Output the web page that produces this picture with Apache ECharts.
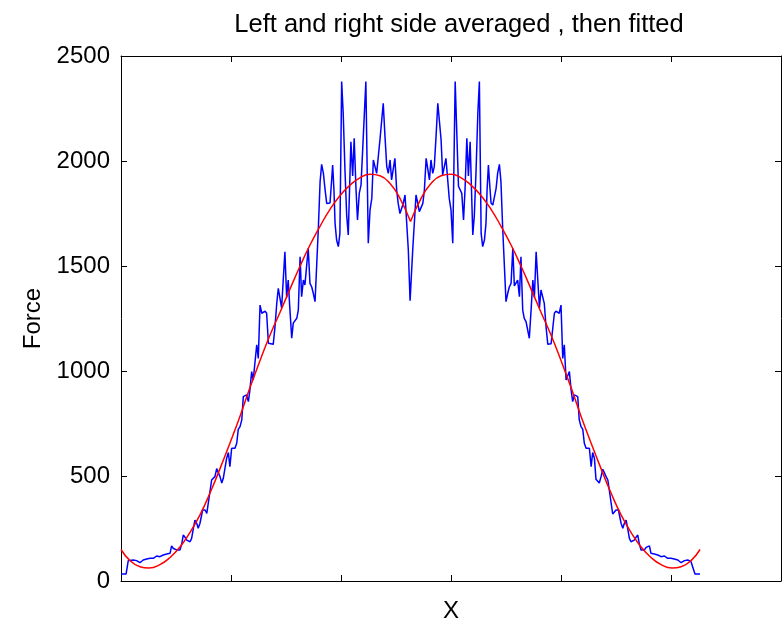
<!DOCTYPE html>
<html>
<head>
<meta charset="utf-8">
<script src="https://cdn.jsdelivr.net/npm/echarts@6/dist/echarts.min.js"></script>
<style>
  html, body { margin: 0; padding: 0; background: #fff; }
  #chart { width: 782px; height: 629px; }
</style>
</head>
<body>
<div id="chart"></div>
<script>
// Averaged force profile, left half (position, force)
const leftX = [0.0, 2.3, 3.3, 4.1, 5.6, 7.1, 8.6, 10.1, 11.7, 12.4, 13.2, 14.0, 14.7, 16.2, 17.7, 19.2, 20.8, 22.3, 23.0, 23.8, 24.5, 25.3, 26.0, 26.8, 27.6, 28.3, 29.1, 29.9, 31.4, 32.1, 32.9, 33.6, 34.4, 35.1, 35.9, 37.1, 38.2, 39.0, 39.7, 41.2, 41.9, 42.7, 43.5, 44.2, 45.0, 45.8, 46.5, 47.3, 48.0, 48.8, 49.5, 50.3, 51.0, 51.8, 52.6, 53.3, 54.1, 54.9, 55.6, 56.4, 57.1, 57.9, 58.6, 59.4, 60.1, 60.9, 61.7, 62.4, 63.2, 64.0, 64.7, 65.5, 66.2, 67.0, 67.7, 69.2, 70.0, 70.8, 71.5, 72.3, 73.0, 74.5, 75.3, 76.0, 76.8, 77.6, 78.3, 79.1, 79.9, 80.6, 81.4, 82.1, 82.9, 83.6, 84.4, 85.1, 85.9, 86.7, 87.4, 88.2, 89.7, 90.5, 91.2, 92.0, 92.7, 93.5, 94.2, 95.0, 95.8, 96.2, 96.8, 97.3, 98.0, 98.8, 99.5, 100.3, 101.0, 101.8, 102.6, 103.3, 104.5, 105.3, 106.0, 106.8, 107.5, 108.3, 109.1, 109.8, 111.3, 112.4, 113.2, 114.0, 114.7, 115.5, 116.2, 117.0, 117.7, 119.2, 120.0, 120.8, 121.5, 122.3, 123.0, 124.5, 125.3, 126.0, 126.8, 127.6, 128.3, 129.1, 130.6, 131.4];
const leftForce = [33, 33, 97, 92, 100, 97, 87, 100, 105, 113, 108, 116, 108, 119, 116, 124, 129, 132, 167, 155, 160, 148, 155, 148, 176, 219, 208, 195, 187, 203, 251, 290, 275, 251, 275, 338, 338, 322, 319, 481, 481, 497, 535, 532, 497, 467, 489, 484, 584, 612, 544, 632, 640, 632, 656, 722, 735, 767, 878, 886, 886, 854, 910, 997, 957, 957, 1125, 1060, 1314, 1275, 1280, 1285, 1275, 1132, 1130, 1127, 1211, 1322, 1394, 1386, 1300, 1568, 1350, 1433, 1290, 1156, 1228, 1235, 1251, 1290, 1544, 1354, 1433, 1410, 1405, 1584, 1417, 1400, 1370, 1330, 1679, 1902, 1984, 1941, 1870, 1798, 1790, 1800, 1917, 1981, 1862, 1703, 1624, 1592, 1655, 2378, 2227, 1957, 1740, 1648, 2092, 1929, 2108, 1870, 1719, 1846, 1886, 1880, 2378, 1608, 1767, 1822, 2005, 2013, 1941, 1933, 2100, 2275, 2116, 1973, 1941, 2005, 1910, 2013, 1862, 1798, 1750, 1759, 1798, 1838, 1576, 1335];

// Averaged force profile, right half (position, force)
const rightX = [131.8, 132.6, 134.1, 134.9, 135.6, 136.4, 137.2, 137.9, 138.7, 140.2, 140.9, 141.7, 142.4, 143.2, 144.0, 145.5, 146.2, 147.0, 147.7, 148.5, 149.2, 150.0, 150.8, 151.9, 153.4, 154.1, 154.9, 155.7, 156.4, 157.2, 157.9, 158.7, 159.9, 160.6, 161.4, 162.2, 162.9, 163.7, 164.4, 165.2, 165.9, 166.4, 167.0, 167.4, 168.2, 169.0, 169.7, 170.5, 171.2, 172.0, 172.7, 173.5, 175.0, 175.8, 176.5, 177.3, 178.1, 178.8, 179.6, 180.3, 181.1, 181.8, 182.6, 183.3, 184.1, 184.9, 185.6, 186.4, 187.2, 187.9, 188.7, 190.2, 190.9, 191.7, 192.4, 193.2, 194.0, 195.5, 196.2, 197.0, 197.7, 198.5, 199.2, 200.0, 200.8, 201.5, 202.3, 203.1, 203.8, 204.6, 205.3, 206.1, 206.8, 207.6, 208.3, 209.1, 209.9, 210.6, 211.4, 212.2, 212.9, 213.7, 214.4, 215.2, 215.9, 216.7, 217.4, 218.2, 219.0, 219.7, 220.5, 221.3, 222.0, 223.5, 224.2, 225.0, 226.1, 227.3, 228.1, 228.8, 229.6, 230.3, 231.1, 231.8, 233.3, 234.1, 234.9, 235.6, 236.4, 237.2, 237.9, 238.7, 239.4, 240.2, 240.9, 242.4, 244.0, 245.5, 247.0, 248.5, 249.2, 250.0, 250.8, 251.5, 253.1, 254.6, 256.1, 257.6, 259.1, 259.9, 260.9, 263.2];
const rightForce = [1335, 1576, 1838, 1798, 1759, 1750, 1798, 1862, 2013, 1910, 2005, 1941, 1973, 2116, 2275, 2100, 1933, 1941, 2013, 2005, 1822, 1767, 1608, 2378, 1880, 1886, 1846, 1719, 1870, 2108, 1929, 2092, 1648, 1740, 1957, 2227, 2378, 1655, 1592, 1624, 1703, 1862, 1981, 1917, 1800, 1790, 1798, 1870, 1941, 1984, 1902, 1679, 1330, 1370, 1400, 1417, 1584, 1405, 1410, 1433, 1354, 1544, 1290, 1251, 1235, 1228, 1156, 1290, 1433, 1350, 1568, 1300, 1386, 1394, 1322, 1211, 1127, 1130, 1132, 1275, 1285, 1280, 1275, 1314, 1060, 1125, 957, 957, 997, 910, 854, 886, 886, 878, 767, 735, 722, 656, 632, 640, 632, 544, 612, 584, 484, 489, 467, 497, 532, 535, 497, 481, 481, 319, 322, 338, 338, 275, 251, 275, 290, 251, 203, 187, 195, 208, 219, 176, 148, 155, 148, 160, 155, 167, 132, 129, 124, 116, 119, 108, 116, 108, 113, 105, 100, 87, 97, 100, 92, 97, 33, 33];

// Fitted curve, left and right branches (they meet at the centre)
const fitLeftX = [0, 4.1, 8.6, 12.7, 17.7, 22.3, 26.8, 31.4, 35.9, 40.5, 45.0, 49.5, 54.1, 58.6, 63.2, 67.7, 72.3, 76.8, 81.4, 85.9, 90.5, 95.0, 99.5, 104.1, 108.6, 113.2, 117.7, 122.3, 126.8, 131.6];
const fitLeftForce = [150, 97, 68, 62, 78, 112, 162, 232, 315, 420, 535, 656, 785, 920, 1050, 1170, 1280, 1390, 1500, 1600, 1690, 1770, 1835, 1885, 1920, 1937, 1930, 1893, 1822, 1712];
const fitRightX = [131.6, 136.4, 140.9, 145.5, 150.0, 154.6, 159.1, 163.7, 168.2, 172.7, 177.3, 181.8, 186.4, 190.9, 195.5, 200.0, 204.6, 209.1, 213.7, 218.2, 222.7, 227.3, 231.8, 236.4, 240.9, 245.5, 250.5, 254.6, 259.1, 263.2];
const fitRightForce = [1712, 1822, 1893, 1930, 1937, 1920, 1885, 1835, 1770, 1690, 1600, 1500, 1390, 1280, 1170, 1050, 920, 785, 656, 535, 420, 315, 232, 162, 112, 78, 62, 68, 97, 150];

const FONT = '"Liberation Sans", Arial, Helvetica, sans-serif';

function pairs(xs, ys) {
  return xs.map((x, i) => [x, ys[i]]);
}

const chart = echarts.init(document.getElementById('chart'), null, { renderer: 'canvas' });

const tickStyle = { show: true, inside: true, length: 6, lineStyle: { color: '#000', width: 1 } };
const lineStyle = { show: true, onZero: false, lineStyle: { color: '#000', width: 1 } };

chart.setOption({
  animation: false,
  backgroundColor: '#fff',
  grid: { left: 121, right: 1, top: 56, bottom: 48, containLabel: false },
  graphic: [
    {
      type: 'text', x: 459, y: 25,
      style: {
        text: 'Left and right side averaged , then fitted',
        font: '25.5px ' + FONT, fill: '#000',
        align: 'center', verticalAlign: 'middle',
        textAlign: 'center', textVerticalAlign: 'middle'
      }
    }
  ],
  xAxis: [
    {
      type: 'value', min: 0, max: 300, interval: 50,
      axisLine: lineStyle, axisTick: tickStyle,
      axisLabel: { show: false }, splitLine: { show: false },
      name: 'X', nameLocation: 'middle', nameGap: 18,
      nameTextStyle: { fontFamily: FONT, fontSize: 24, color: '#000' }
    },
    {
      type: 'value', position: 'top', min: 0, max: 300, interval: 50,
      axisLine: lineStyle, axisTick: tickStyle,
      axisLabel: { show: false }, splitLine: { show: false }
    }
  ],
  yAxis: [
    {
      type: 'value', min: 0, max: 2500, interval: 500,
      axisLine: lineStyle, axisTick: tickStyle,
      axisLabel: {
        fontFamily: FONT, fontSize: 24, color: '#000', margin: 11,
        formatter: v => String(v)
      },
      splitLine: { show: false },
      name: 'Force', nameLocation: 'middle', nameGap: 70, nameRotate: 90,
      nameTextStyle: { fontFamily: FONT, fontSize: 24, color: '#000' }
    },
    {
      type: 'value', position: 'right', min: 0, max: 2500, interval: 500,
      axisLine: lineStyle, axisTick: tickStyle,
      axisLabel: { show: false }, splitLine: { show: false }
    }
  ],
  series: [
    {
      type: 'line', data: pairs(leftX, leftForce).concat(pairs(rightX, rightForce)),
      showSymbol: false, lineStyle: { color: '#0000ff', width: 1.5 }, z: 2
    },
    {
      type: 'line', data: pairs(fitLeftX, fitLeftForce), smooth: 0.5,
      showSymbol: false, lineStyle: { color: '#ff0000', width: 1.5 }, z: 3
    },
    {
      type: 'line', data: pairs(fitRightX, fitRightForce), smooth: 0.5,
      showSymbol: false, lineStyle: { color: '#ff0000', width: 1.5 }, z: 3
    }
  ]
});
</script>
</body>
</html>
